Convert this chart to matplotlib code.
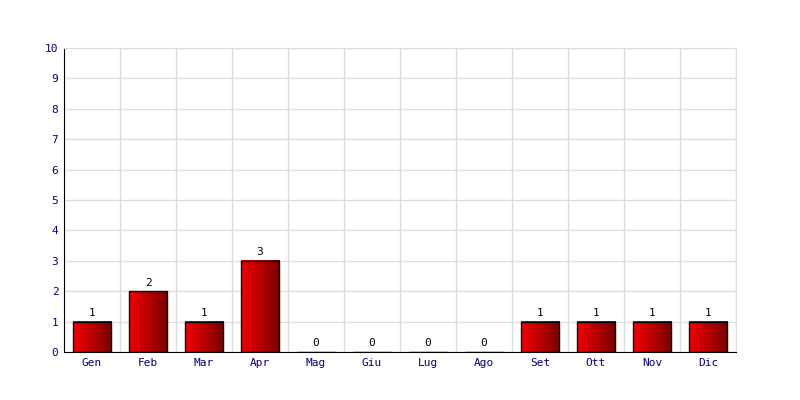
import matplotlib
matplotlib.use("Agg")
import matplotlib.pyplot as plt
import numpy as np
from matplotlib.colors import LinearSegmentedColormap

months = ["Gen", "Feb", "Mar", "Apr", "Mag", "Giu", "Lug", "Ago", "Set", "Ott", "Nov", "Dic"]
values = [1, 2, 1, 3, 0, 0, 0, 0, 1, 1, 1, 1]
y_ticks = list(range(0, 11))

fig = plt.figure(figsize=(8, 4), dpi=100)
ax = fig.add_axes([0.08, 0.12, 0.84, 0.76])

x = np.arange(len(months))
bars = ax.bar(x, values, width=0.68, facecolor="none", edgecolor="black", linewidth=1, zorder=3)

# horizontal red gradient inside each bar
cmap = LinearSegmentedColormap.from_list("red_grad", ["#f50000", "#7a0000"])
grad = np.linspace(0, 1, 256).reshape(1, -1)
for b in bars:
    h = b.get_height()
    if h > 0:
        x0 = b.get_x()
        ax.imshow(grad, extent=[x0, x0 + b.get_width(), 0, h], cmap=cmap,
                  aspect="auto", zorder=2, interpolation="bilinear")
    ax.text(b.get_x() + b.get_width() / 2, h + 0.12, str(values[int(round(b.get_x() + b.get_width() / 2))]),
            ha="center", va="bottom", fontsize=8, family="DejaVu Sans Mono", color="black")

ax.set_xlim(-0.5, len(months) - 0.5)
ax.set_ylim(0, 10)
ax.set_xticks(x)
ax.set_xticklabels(months)
ax.set_yticks(y_ticks)
ax.set_xticks(np.arange(-0.5, len(months), 1), minor=True)
ax.tick_params(axis="both", which="both", length=0, labelsize=8, labelcolor="#000080", pad=4)
for lab in ax.get_xticklabels() + ax.get_yticklabels():
    lab.set_family("DejaVu Sans Mono")

ax.grid(True, which="minor", axis="x", color="#dddddd", linewidth=1, zorder=0)
ax.grid(True, which="major", axis="y", color="#dddddd", linewidth=1, zorder=0)
ax.set_axisbelow(True)

for side in ["top", "right"]:
    ax.spines[side].set_color("#dddddd")
for side in ["left", "bottom"]:
    ax.spines[side].set_color("black")

plt.savefig("out.png", dpi=100)
